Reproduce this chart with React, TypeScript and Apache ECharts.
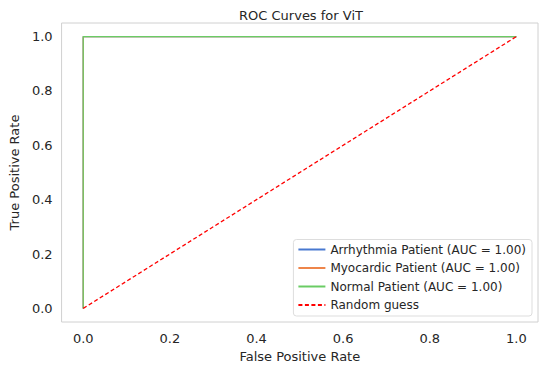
import React, { useEffect, useRef } from "react";
import * as echarts from "echarts";

const title = "ROC Curves for ViT";
const seriesNames = [
  "Arrhythmia Patient (AUC = 1.00)",
  "Myocardic Patient (AUC = 1.00)",
  "Normal Patient (AUC = 1.00)",
];
const seriesColors = ["#4878d0", "#ee854a", "#6acc64"];
const fprArrhythmia = [0, 0, 1];
const tprArrhythmia = [0, 1, 1];
const fprMyocardic = [0, 0, 1];
const tprMyocardic = [0, 1, 1];
const fprNormal = [0, 0, 1];
const tprNormal = [0, 1, 1];
const randomName = "Random guess";
const randomX = [0, 1];
const randomY = [0, 1];
const tickValues = [0, 0.2, 0.4, 0.6, 0.8, 1.0];

const zip = (xs: number[], ys: number[]) => xs.map((x, i) => [x, ys[i]]);

export default function App() {
  const ref = useRef<HTMLDivElement>(null);
  useEffect(() => {
    if (!ref.current) return;
    const chart = echarts.init(ref.current, undefined, { renderer: "svg" });
    const font = "DejaVu Sans";
    const textColor = "#262626";
    const curves = [
      zip(fprArrhythmia, tprArrhythmia),
      zip(fprMyocardic, tprMyocardic),
      zip(fprNormal, tprNormal),
    ];
    const axisCommon = {
      type: "value" as const,
      min: -0.05,
      max: 1.05,
      splitLine: { show: false },
      axisLine: { show: false },
      axisTick: { show: false },
      nameLocation: "middle" as const,
      nameTextStyle: { fontFamily: font, fontSize: 13, color: textColor },
      axisLabel: {
        fontFamily: font,
        fontSize: 13,
        color: textColor,
        customValues: tickValues,
        formatter: (v: number) => v.toFixed(1),
      },
      axisPointer: { show: false },
    };
    chart.setOption({
      animation: false,
      backgroundColor: "#ffffff",
      title: {
        text: title,
        left: 296,
        textAlign: "center",
        top: 4,
        textStyle: { fontFamily: font, fontSize: 13, fontWeight: "normal", color: textColor },
      },
      grid: {
        left: 54,
        top: 23,
        right: 12,
        bottom: 49,
        show: true,
        borderColor: "#d0d0d0",
        borderWidth: 1,
        backgroundColor: "#ffffff",
      },
      xAxis: {
        ...axisCommon,
        name: "False Positive Rate",
        nameGap: 28,
        axisLabel: { ...axisCommon.axisLabel, margin: 10 },
      },
      yAxis: {
        ...axisCommon,
        name: "True Positive Rate",
        nameGap: 37,
        axisLabel: { ...axisCommon.axisLabel, margin: 9 },
      },
      legend: {
        orient: "vertical",
        right: 18,
        bottom: 55,
        padding: [4, 6, 5, 4],
        itemWidth: 27,
        itemHeight: 10,
        itemGap: 6.5,
        backgroundColor: "#ffffff",
        borderColor: "#dddddd",
        borderWidth: 1,
        borderRadius: 3,
        itemStyle: { opacity: 0 },
        textStyle: { fontFamily: font, fontSize: 12, color: textColor },
        data: [...seriesNames, randomName],
      },
      series: [
        ...seriesNames.map((name, i) => ({
          name,
          type: "line",
          data: curves[i],
          symbol: "none",
          color: seriesColors[i],
          lineStyle: { width: 1.2, color: seriesColors[i] },
        })),
        {
          name: randomName,
          type: "line",
          data: zip(randomX, randomY),
          symbol: "none",
          color: "#ff0000",
          lineStyle: { width: 1.3, color: "#ff0000", type: [4, 2.5] },
        },
      ],
    });
    return () => chart.dispose();
  }, []);
  return <div ref={ref} style={{ width: 550, height: 371, margin: -8 }} />;
}
